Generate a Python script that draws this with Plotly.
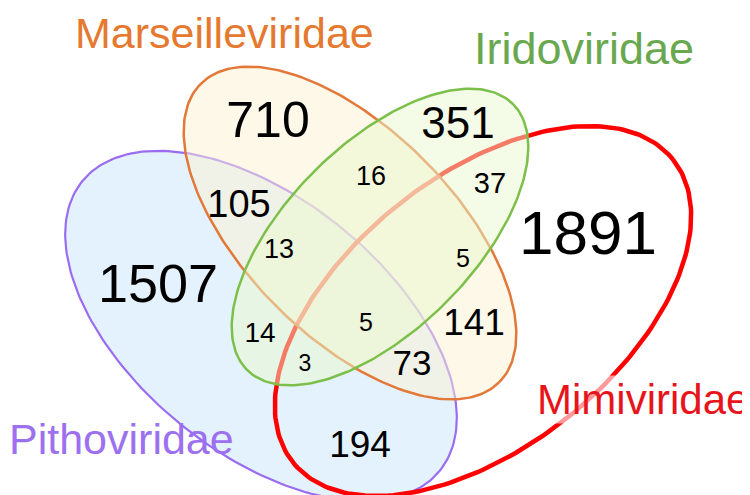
import numpy as np
import plotly.graph_objects as go

# Sets and region counts
set_names = ['Pithoviridae', 'Mimiviridae', 'Marseilleviridae', 'Iridoviridae']
region_counts = [710, 351, 1891, 1507, 105, 16, 37, 13, 5, 5, 14, 3, 141, 73, 194]

# Where each count sits (pixel-like coords, y down)
count_x = [260, 450, 580, 150, 231, 363, 482, 271, 455, 358, 252, 297, 466, 404, 352]
count_y = [116, 119, 230, 280, 199, 170, 178, 243, 253, 317, 327, 357, 318, 358, 440]
count_size = [50, 44, 62, 54, 38, 27, 29, 27, 25, 25, 28, 23, 37, 35, 37]

# Ellipse geometry: centre, semi-axes, rotation (deg, screen coords)
ell_cx = [253, 475, 342, 372]
ell_cy = [318, 303, 225, 229]
ell_a = [230, 243, 211, 188]
ell_b = [127, 136, 104, 93]
ell_rot = [39, -38.5, 45, -45]

COLORS = {
    'Pithoviridae': dict(line='#9b6cf2', fill='#e4f2fd', width=2.2, text='#9c70ef'),
    'Mimiviridae': dict(line='#ff0000', fill=None, width=4.5, text='#e8141c'),
    'Marseilleviridae': dict(line='#e2793a', fill='rgba(253,241,209,0.5)', width=2.5, text='#e5792f'),
    'Iridoviridae': dict(line='#7cc04b', fill='rgba(233,247,205,0.5)', width=2.5, text='#6aa84f'),
}

label_x = [113, 635, 216, 576]
label_y = [431, 391, 0, 40]
label_anchor = ['middle', 'middle', 'top', 'middle']
label_size = [43, 42, 43, 45]

FONT = 'Arial, Liberation Sans, sans-serif'


def ellipse(cx, cy, a, b, rot):
    t = np.linspace(0, 2 * np.pi, 241)
    th = np.radians(rot)
    x = cx + a * np.cos(t) * np.cos(th) - b * np.sin(t) * np.sin(th)
    y = cy + a * np.cos(t) * np.sin(th) + b * np.sin(t) * np.cos(th)
    return x, y


fig = go.Figure()

for i, name in enumerate(set_names):
    c = COLORS[name]
    x, y = ellipse(ell_cx[i], ell_cy[i], ell_a[i], ell_b[i], ell_rot[i])
    fig.add_trace(go.Scatter(
        x=x, y=y,
        mode='lines',
        line=dict(color=c['line'], width=c['width']),
        fill='toself' if c['fill'] else 'none',
        fillcolor=c['fill'] if c['fill'] else 'rgba(0,0,0,0)',
        hoverinfo='skip',
        name=name
    ))

fig.add_trace(go.Scatter(
    x=count_x, y=count_y,
    mode='text',
    text=[str(v) for v in region_counts],
    textposition='middle center',
    textfont=dict(family=FONT, size=count_size, color='black'),
    hoverinfo='skip'
))

for i, name in enumerate(set_names):
    fig.add_annotation(
        x=label_x[i], y=label_y[i],
        text=name,
        showarrow=False,
        font=dict(family=FONT, size=label_size[i], color=COLORS[name]['text']),
        bgcolor='rgba(255,255,255,0.6)' if name == 'Mimiviridae' else None,
        borderpad=0,
        xanchor='center', yanchor=label_anchor[i]
    )

fig.update_xaxes(range=[0, 750], visible=False)
fig.update_yaxes(range=[495, 0], visible=False)
fig.update_layout(
    width=750, height=495,
    margin=dict(l=0, r=0, t=0, b=0),
    plot_bgcolor='white',
    paper_bgcolor='white',
    showlegend=False
)

fig.write_html("out.html")
